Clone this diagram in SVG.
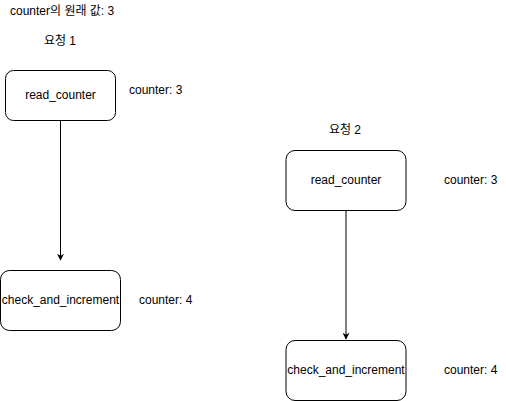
<svg xmlns="http://www.w3.org/2000/svg" width="506" height="401" viewBox="0 0 506 401">
<style>
text{font-family:"Liberation Sans","Noto Sans CJK KR",Arial,sans-serif;font-size:12px;fill:#000}
.c{text-anchor:middle}
.box{fill:#fff;stroke:#000;stroke-width:1}
.edge{stroke:#000;stroke-width:1;fill:none}
</style>
<defs>
<marker id="arr" viewBox="0 0 10 10" refX="9" refY="5" markerWidth="7" markerHeight="7" markerUnits="userSpaceOnUse" orient="auto">
<path d="M0,0 L10,5 L0,10 L3,5 Z" fill="#000"/>
</marker>
</defs>
<rect width="506" height="401" fill="#fff"/>
<g id="connectors">
<path class="edge" d="M60.5,120.5 V260" marker-end="url(#arr)"/>
<path class="edge" d="M346,210.5 V339" marker-end="url(#arr)"/>
</g>
<g id="title"><text x="10" y="15">counter의 원래 값: 3</text></g>
<g id="req1"><text class="c" x="60" y="45">요청 1</text></g>
<g id="req2"><text class="c" x="345" y="134">요청 2</text></g>
<g id="read1">
<rect class="box" x="5.5" y="70.5" width="110" height="50" rx="8"/>
<text class="c" x="60.5" y="99">read_counter</text>
</g>
<g id="read1label"><text x="129" y="94">counter: 3</text></g>
<g id="check1">
<rect class="box" x="0.5" y="270.5" width="120" height="60" rx="9"/>
<text class="c" x="60.5" y="304">check_and_increment</text>
</g>
<g id="check1label"><text x="139" y="304">counter: 4</text></g>
<g id="read2">
<rect class="box" x="286" y="150.5" width="120" height="60" rx="9"/>
<text class="c" x="346" y="184">read_counter</text>
</g>
<g id="read2label"><text x="444" y="184">counter: 3</text></g>
<g id="check2">
<rect class="box" x="286" y="340.5" width="120" height="60" rx="9"/>
<text class="c" x="346" y="374">check_and_increment</text>
</g>
<g id="check2label"><text x="444" y="374">counter: 4</text></g>
</svg>
